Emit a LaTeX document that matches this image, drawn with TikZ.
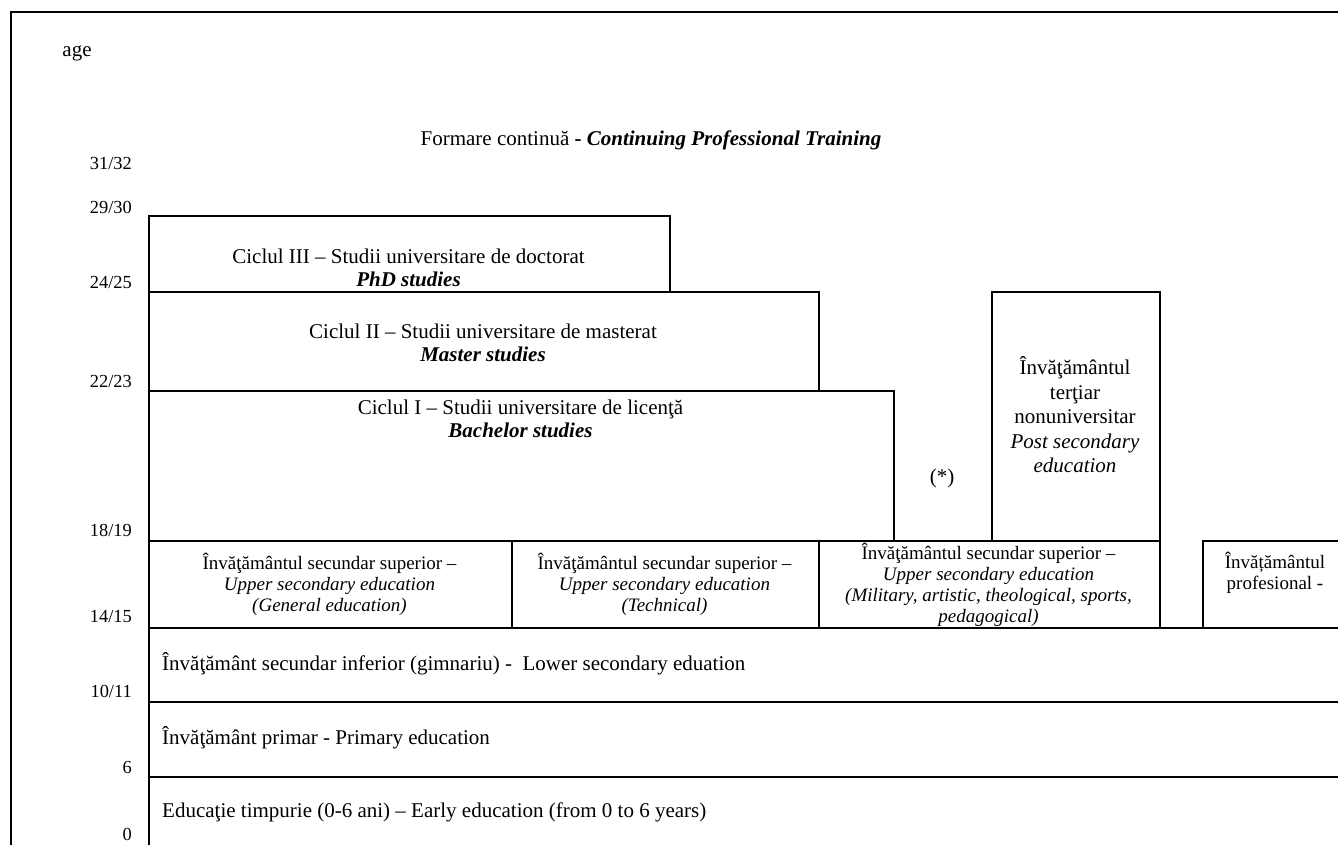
\documentclass[tikz,border=0pt]{standalone}
\usepackage{fontspec}
\setmainfont{Liberation Serif}[
  BoldFont={Liberation Serif Bold},
  ItalicFont={Liberation Serif Italic},
  BoldItalicFont={Liberation Serif Bold Italic}]
\begin{document}
\begin{tikzpicture}[x=1pt,y=-1pt,
  box/.style={draw, line width=2pt, inner sep=0pt, anchor=north west},
  big/.style={font=\fontsize{21}{23}\selectfont, align=center, inner sep=0pt},
  post/.style={font=\fontsize{21}{24.5}\selectfont, align=center, inner sep=0pt},
  small/.style={font=\fontsize{19}{21}\selectfont, align=center, inner sep=0pt},
  lab/.style={font=\fontsize{18.4}{21}\selectfont, anchor=east, inner sep=0pt},
  row/.style={font=\fontsize{21}{23}\selectfont, anchor=west, inner sep=0pt}]
\useasboundingbox (0,0) rectangle (1338,845);
% frame
\coordinate (fbl) at (11,860);
\coordinate (ftl) at (11,12);
\coordinate (ftr) at (1350,12);
\draw[line width=2pt] (fbl) -- (ftl) -- (ftr);
% boxes
\node[box, minimum width=521pt, minimum height=76pt] (phd) at (148,215) {};
\node[box, minimum width=670pt, minimum height=99pt] (master) at (148,291) {};
\node[box, minimum width=745pt, minimum height=150pt] (bach) at (148,390) {};
\node[box, minimum width=168pt, minimum height=249pt] (post) at (991,291) {};
\node[box, minimum width=363pt, minimum height=87pt] (us1) at (148,540) {};
\node[box, minimum width=307pt, minimum height=87pt] (us2) at (511,540) {};
\node[box, minimum width=341pt, minimum height=87pt] (us3) at (818,540) {};
\node[box, minimum width=150pt, minimum height=87pt] (prof) at (1202,540) {};
\node[box, minimum width=1202pt, minimum height=74pt] (lower) at (148,627) {};
\node[box, minimum width=1202pt, minimum height=75pt] (prim) at (148,701) {};
\node[box, minimum width=1202pt, minimum height=90pt] (early) at (148,776) {};
% age labels
\node[font=\fontsize{21}{23}\selectfont, inner sep=0pt] (age) at (77,53) {age};
\node[lab] (a1) at (132,163) {31/32};
\node[lab] (a2) at (132,207) {29/30};
\node[lab] (a3) at (132,282) {24/25};
\node[lab] (a4) at (132,381) {22/23};
\node[lab] (a5) at (132,530) {18/19};
\node[lab] (a6) at (132,617) {14/15};
\node[lab] (a7) at (132,691) {10/11};
\node[lab] (a8) at (132,767) {6};
\node[lab] (a9) at (132,834) {0};
% texts
\node[big] (tform) at (651,140) {Formare continuă \textbf{- \textit{Continuing Professional Training}}};
\node[big] (tphd) at (408.5,267.5) {Ciclul III – Studii universitare de doctorat\\\textbf{\textit{PhD studies}}};
\node[big] (tmas) at (483,342.5) {Ciclul II – Studii universitare de masterat\\\textbf{\textit{Master studies}}};
\node[big] (tbach) at (520.5,418.5) {Ciclul I – Studii universitare de licenţă\\\textbf{\textit{Bachelor studies}}};
\node[big] (tstar) at (942,478) {(*)};
\node[post] (tpost) at (1075,415) {Învăţământul\\terţiar\\nonuniversitar\\\textit{Post secondary}\\\textit{education}};
\node[small] (tus1) at (329.5,584) {Învăţământul secundar superior –\\\textit{Upper secondary education}\\\textit{(General education)}};
\node[small] (tus2) at (664.5,584) {Învăţământul secundar superior –\\\textit{Upper secondary education}\\\textit{(Technical)}};
\node[small] (tus3) at (988.5,585) {Învăţământul secundar superior –\\\textit{Upper secondary education}\\\textit{(Military, artistic, theological, sports,}\\\textit{pedagogical)}};
\node[small] (tprof) at (1275,573) {Învățământul\\profesional -};
\node[row] (tlow) at (162,664) {Învăţământ secundar inferior (gimnariu) -\ \ Lower secondary eduation};
\node[row] (tprim) at (162,738) {Învăţământ primar - Primary education};
\node[row] (tearly) at (162,812) {Educaţie timpurie (0-6 ani) – Early education (from 0 to 6 years)};
\end{tikzpicture}
\end{document}
